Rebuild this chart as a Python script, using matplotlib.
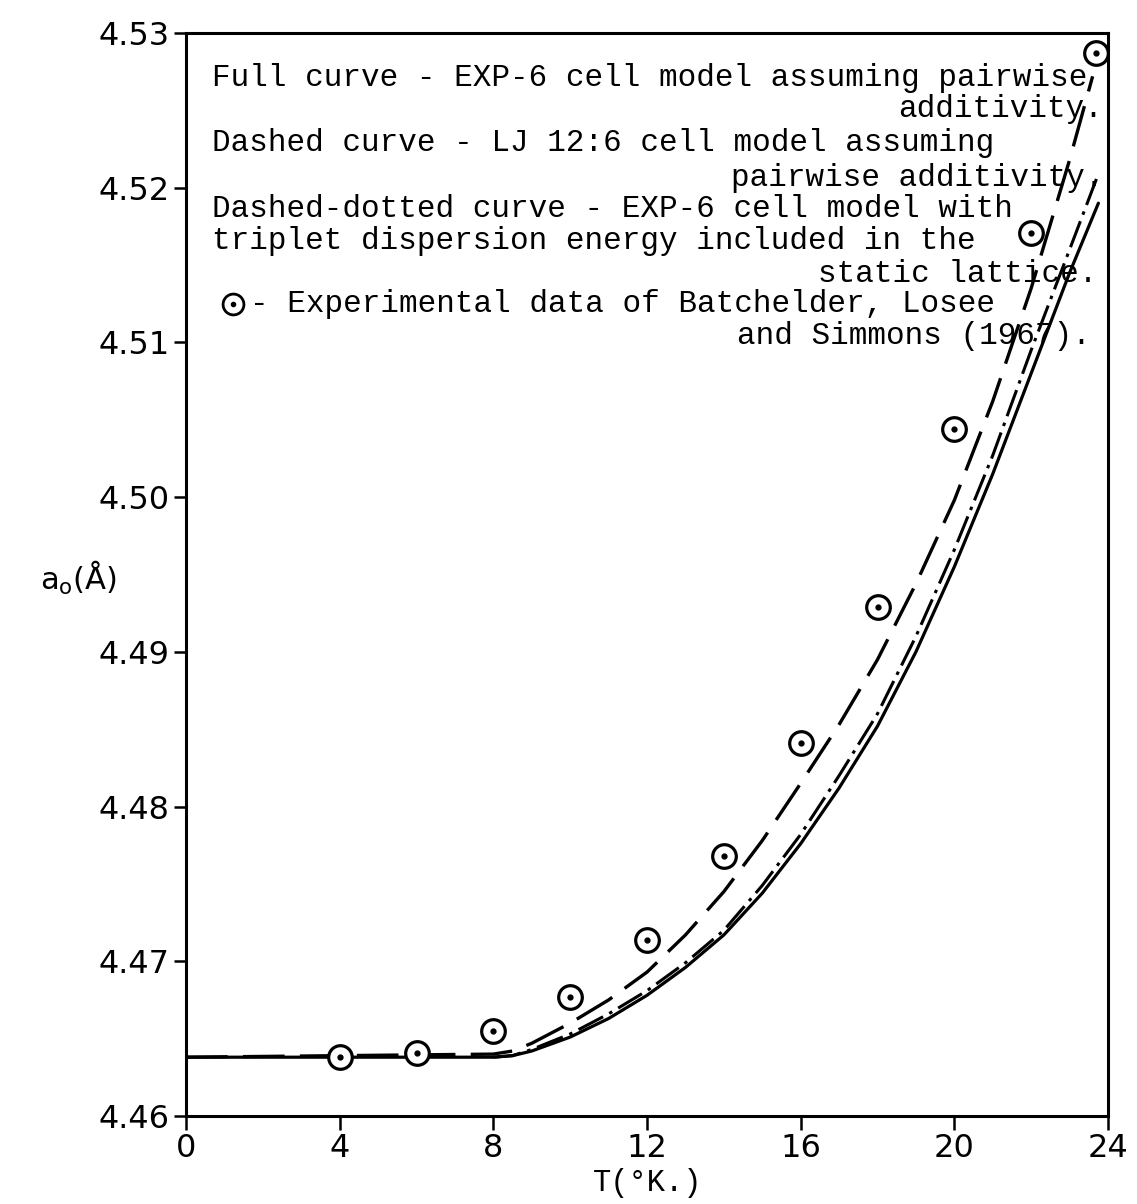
import matplotlib
matplotlib.use("Agg")
import matplotlib.pyplot as plt

# experimental data (Batchelder, Losee and Simmons 1967)
exp_T = [4, 6, 8, 10, 12, 14, 16, 18, 20, 22, 23.7]
exp_a = [4.4638, 4.4641, 4.4655, 4.4677, 4.4714, 4.4768, 4.4841, 4.4929, 4.5044, 4.5171, 4.5287]

# full curve - EXP-6 pairwise
full_T = [0, 8, 8.5, 9, 10, 11, 12, 13, 14, 15, 16, 17, 18, 19, 20, 21, 22, 23, 23.75]
full_a = [4.4638, 4.4638, 4.4639, 4.4642, 4.4651, 4.4663, 4.4678, 4.4696, 4.4717, 4.4744,
          4.4776, 4.4812, 4.4852, 4.4900, 4.4955, 4.5015, 4.5080, 4.5145, 4.5190]

# dashed curve - LJ 12:6
lj_T = [0, 8, 8.5, 9, 10, 11, 12, 13, 14, 15, 16, 17, 18, 19, 20, 21, 22, 23, 23.6]
lj_a = [4.4638, 4.4640, 4.4642, 4.4647, 4.4660, 4.4675, 4.4693, 4.4717, 4.4745, 4.4778,
        4.4815, 4.4853, 4.4895, 4.4944, 4.4998, 4.5062, 4.5135, 4.5218, 4.5272]

# dashed-dotted curve - EXP-6 with triplet dispersion
trip_T = [8, 8.5, 9, 10, 11, 12, 13, 14, 15, 16, 17, 18, 19, 20, 21, 22, 23, 23.75]
trip_a = [4.4638, 4.4639, 4.4643, 4.4653, 4.4666, 4.4681, 4.4699, 4.4720, 4.4749, 4.4782,
          4.4820, 4.4860, 4.4910, 4.4966, 4.5027, 4.5095, 4.5160, 4.5209]

x_ticks = [0, 4, 8, 12, 16, 20, 24]
y_ticks = [4.46, 4.47, 4.48, 4.49, 4.50, 4.51, 4.52, 4.53]

legend_lines = [
    ("Full curve - EXP-6 cell model assuming pairwise", 0.028, 0.951, "left"),
    ("additivity.", 0.995, 0.922, "right"),
    ("Dashed curve - LJ 12:6 cell model assuming", 0.028, 0.891, "left"),
    ("pairwise additivity.", 0.995, 0.859, "right"),
    ("Dashed-dotted curve - EXP-6 cell model with", 0.028, 0.830, "left"),
    ("triplet dispersion energy included in the", 0.028, 0.801, "left"),
    ("static lattice.", 0.988, 0.770, "right"),
    ("- Experimental data of Batchelder, Losee", 0.069, 0.742, "left"),
    ("and Simmons (1967).", 0.981, 0.713, "right"),
]

plt.rcParams['lines.scale_dashes'] = False

fig = plt.figure(figsize=(11.37, 12.04), dpi=100)
ax = fig.add_axes([0.1636, 0.0731, 0.9745 - 0.1636, 0.9726 - 0.0731])

ax.plot(full_T, full_a, color='black', lw=2.3, solid_capstyle='round')
ax.plot(lj_T, lj_a, color='black', lw=2.4, dashes=(30, 11))
ax.plot(trip_T, trip_a, color='black', lw=2.2, dashes=(20, 5, 2.5, 5))

ax.plot(exp_T, exp_a, linestyle='none', marker='o', markersize=17,
        markerfacecolor='white', markeredgecolor='black', markeredgewidth=2.3,
        clip_on=False, zorder=5)
ax.plot(exp_T, exp_a, linestyle='none', marker='o', markersize=3.5,
        color='black', clip_on=False, zorder=6)

ax.set_xlim(0, 24)
ax.set_ylim(4.46, 4.53)
ax.set_xticks(x_ticks)
ax.set_xticklabels([str(t) for t in x_ticks], fontsize=23)
ax.set_yticks(y_ticks)
ax.set_yticklabels(['%.2f' % v for v in y_ticks], fontsize=23)
ax.tick_params(axis='x', direction='out', length=10, width=1.8, pad=2)
ax.tick_params(axis='y', direction='out', length=9, width=1.8, pad=3)
for s in ax.spines.values():
    s.set_linewidth(2.2)

for txt, x, y, ha in legend_lines:
    ax.text(x, y, txt, transform=ax.transAxes, ha=ha, va='baseline',
            family='Liberation Mono', fontsize=22.3)

# legend marker for experimental data
ax.plot([0.051], [0.750], transform=ax.transAxes, linestyle='none', marker='o',
        markersize=15, markerfacecolor='white', markeredgecolor='black',
        markeredgewidth=2.0, clip_on=False)
ax.plot([0.051], [0.750], transform=ax.transAxes, linestyle='none', marker='o',
        markersize=3, color='black', clip_on=False)

fig.text(40 / 1137, 1 - 578 / 1204, r'a$_\mathrm{o}$(Å)', fontsize=22,
         ha='left', va='center')
fig.text(648 / 1137, 1 - 1183 / 1204, 'T(°K.)', fontsize=22,
         family='Liberation Mono', ha='center', va='center')

fig.savefig('out.png', dpi=100)
